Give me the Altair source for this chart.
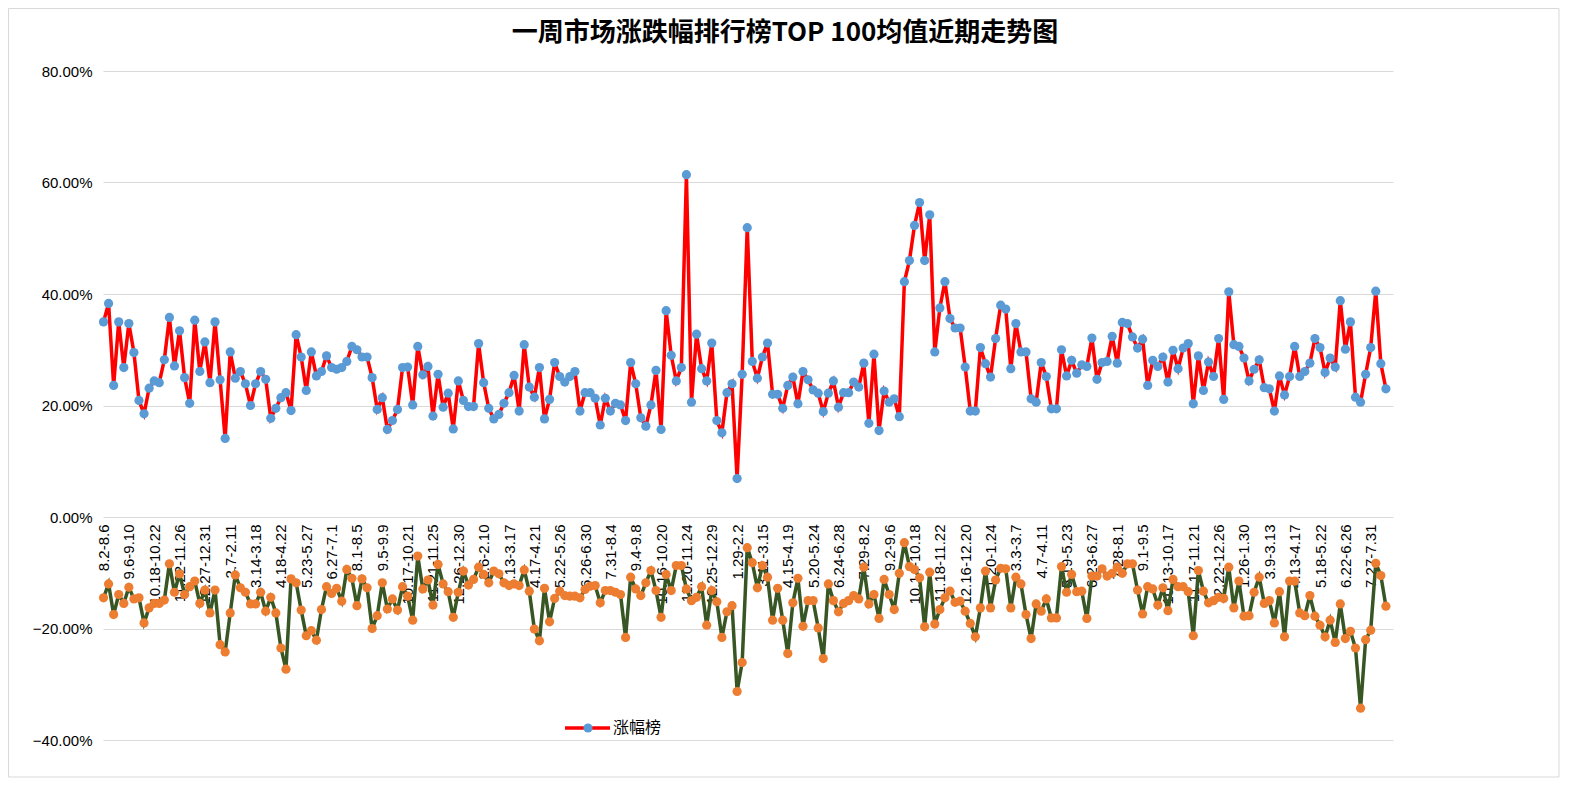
import json
import altair as alt
import pandas as pd

title_text = "一周市场涨跌幅排行榜TOP 100均值近期走势图"
series_up_name = "涨幅榜"
series_down_name = "跌幅榜"

# visible category labels (every 5th week)
tick_labels = [
    "8.2-8.6", "9.6-9.10", "10.18-10.22", "11.22-11.26", "12.27-12.31",
    "2.7-2.11", "3.14-3.18", "4.18-4.22", "5.23-5.27", "6.27-7.1",
    "8.1-8.5", "9.5-9.9", "10.17-10.21", "11.21-11.25", "12.26-12.30",
    "2.6-2.10", "3.13-3.17", "4.17-4.21", "5.22-5.26", "6.26-6.30",
    "7.31-8.4", "9.4-9.8", "10.16-10.20", "11.20-11.24", "12.25-12.29",
    "1.29-2.2", "3.11-3.15", "4.15-4.19", "5.20-5.24", "6.24-6.28",
    "7.29-8.2", "9.2-9.6", "10.14-10.18", "11.18-11.22", "12.16-12.20",
    "1.20-1.24", "3.3-3.7", "4.7-4.11", "5.19-5.23", "6.23-6.27",
    "7.28-8.1", "9.1-9.5", "10.13-10.17", "11.17-11.21", "12.22-12.26",
    "1.26-1.30", "3.9-3.13", "4.13-4.17", "5.18-5.22", "6.22-6.26",
    "7.27-7.31",
]
tick_step = 5

# weekly averages, percent
up_values = [
    35.0, 38.3, 23.6, 35.0, 26.8, 34.7, 29.5, 20.9, 18.5, 23.1,
    24.4, 24.1, 28.2, 35.8, 27.1, 33.4, 25.0, 20.4, 35.3, 26.1,
    31.4, 24.1, 35.0, 24.6, 14.1, 29.6, 24.9, 26.1, 23.9, 20.0,
    23.9, 26.1, 24.7, 17.7, 19.5, 21.4, 22.3, 19.1, 32.7, 28.7,
    22.7, 29.6, 25.3, 26.1, 28.9, 26.8, 26.5, 26.8, 27.9, 30.6,
    30.0, 28.7, 28.7, 25.0, 19.3, 21.4, 15.7, 17.3, 19.3, 26.8,
    26.9, 20.1, 30.6, 25.5, 27.0, 18.1, 25.6, 19.7, 22.2, 15.8,
    24.4, 20.9, 19.8, 19.8, 31.1, 24.1, 19.5, 17.6, 18.4, 20.4,
    22.3, 25.4, 19.0, 30.9, 23.3, 21.5, 26.8, 17.6, 21.1, 27.7,
    25.2, 24.2, 25.2, 26.1, 19.0, 22.3, 22.3, 21.3, 16.5, 21.3,
    19.0, 20.4, 20.1, 17.3, 27.7, 23.9, 17.8, 16.3, 20.1, 26.3,
    15.7, 37.0, 29.0, 24.4, 26.8, 61.4, 20.6, 32.8, 26.6, 24.4,
    31.2, 17.3, 15.1, 22.3, 23.9, 6.9, 25.6, 51.9, 27.9, 24.9,
    28.7, 31.2, 22.0, 22.0, 19.5, 23.6, 25.1, 20.3, 26.1, 24.6,
    22.8, 22.2, 18.9, 22.2, 24.4, 19.7, 22.3, 22.3, 24.2, 23.3,
    27.6, 16.8, 29.2, 15.5, 22.6, 20.6, 21.2, 18.0, 42.2, 46.0,
    52.3, 56.4, 46.0, 54.2, 29.6, 37.5, 42.2, 35.6, 33.9, 33.9,
    26.9, 19.0, 19.0, 30.4, 27.5, 25.1, 32.0, 38.0, 37.3, 26.6,
    34.7, 29.6, 29.6, 21.2, 20.6, 27.7, 25.2, 19.4, 19.4, 30.0,
    25.3, 28.1, 25.8, 27.3, 27.0, 32.1, 24.7, 27.7, 27.9, 32.4,
    27.6, 34.9, 34.7, 32.3, 30.3, 31.9, 23.6, 28.1, 27.0, 28.7,
    24.2, 29.9, 26.6, 30.3, 31.1, 20.3, 28.9, 22.7, 27.8, 25.2,
    32.0, 21.1, 40.4, 30.9, 30.6, 28.5, 24.4, 26.5, 28.2, 23.2,
    23.0, 19.0, 25.3, 21.9, 25.2, 30.6, 25.2, 26.1, 27.6, 32.0,
    30.4, 25.9, 28.5, 26.9, 38.8, 30.1, 35.0, 21.5, 20.6, 25.6,
    30.4, 40.5, 27.5, 23.0,
]

down_values = [
    -14.5, -12.0, -17.5, -13.9, -15.5, -12.6, -14.7, -14.5, -19.0, -16.3,
    -15.5, -15.5, -14.9, -8.4, -13.5, -10.2, -13.9, -12.5, -11.5, -15.5,
    -13.1, -17.2, -13.1, -22.9, -24.2, -17.2, -10.4, -12.7, -13.5, -15.6,
    -15.6, -13.5, -16.9, -14.4, -17.2, -23.5, -27.3, -11.1, -11.8, -16.7,
    -21.3, -20.4, -22.1, -16.6, -12.5, -13.7, -12.8, -15.1, -9.4, -11.0,
    -15.9, -11.1, -12.7, -20.0, -17.7, -11.8, -16.5, -14.7, -16.7, -12.5,
    -14.2, -18.5, -7.0, -12.9, -11.3, -15.8, -8.5, -12.0, -13.4, -18.0,
    -13.5, -9.7, -12.2, -11.2, -9.0, -10.3, -11.8, -9.7, -10.2, -11.8,
    -12.3, -12.0, -12.3, -9.5, -13.3, -20.1, -22.2, -12.8, -18.8, -14.6,
    -13.3, -14.1, -14.2, -14.2, -14.5, -13.0, -12.4, -12.3, -15.4, -13.2,
    -13.2, -13.5, -13.9, -21.6, -10.8, -12.9, -14.1, -11.8, -9.6, -13.2,
    -18.0, -10.3, -13.2, -8.7, -8.7, -12.9, -15.0, -14.4, -12.5, -19.4,
    -13.2, -15.2, -21.6, -17.0, -15.9, -31.3, -26.1, -5.5, -8.2, -12.7,
    -8.7, -10.8, -18.5, -12.8, -18.5, -24.5, -15.4, -11.0, -19.6, -15.0,
    -15.0, -19.9, -25.4, -12.0, -15.0, -17.0, -15.5, -15.0, -14.1, -14.7,
    -9.0, -15.6, -13.9, -18.2, -11.2, -13.9, -16.6, -10.1, -4.6, -8.9,
    -9.4, -10.9, -19.7, -9.9, -19.2, -16.6, -14.5, -13.3, -15.3, -15.1,
    -16.9, -19.1, -21.5, -16.3, -9.7, -16.3, -11.3, -9.2, -9.3, -16.3,
    -10.8, -12.0, -17.5, -21.8, -15.6, -16.9, -14.7, -18.1, -18.1, -8.9,
    -13.5, -10.3, -13.4, -13.3, -18.2, -10.6, -10.6, -9.3, -10.6, -10.1,
    -9.0, -10.1, -8.4, -8.4, -13.1, -17.4, -12.5, -12.9, -15.8, -12.7,
    -16.8, -11.2, -12.5, -12.5, -13.4, -21.3, -9.6, -13.3, -15.4, -15.0,
    -14.4, -14.6, -9.0, -16.3, -11.5, -17.8, -17.7, -13.5, -10.8, -15.5,
    -15.0, -19.0, -13.4, -21.5, -11.5, -11.5, -17.2, -17.7, -14.1, -17.8,
    -19.4, -21.5, -18.5, -22.5, -15.6, -21.8, -20.5, -23.5, -34.3, -22.0,
    -20.3, -8.3, -10.5, -16.0,
]

y_ticks = [-40, -20, 0, 20, 40, 60, 80]

n = len(up_values)
df_up = pd.DataFrame({"idx": list(range(n)), "value": up_values, "series": series_up_name})
df_down = pd.DataFrame({"idx": list(range(len(down_values))), "value": down_values, "series": series_down_name})

W, H = 1290, 669
zero_from_top = H * (80 - 0) / 120.0
label_font = "Liberation Sans"

label_expr = json.dumps(tick_labels) + "[round(datum.value / %d)]" % tick_step
x_enc = alt.X(
    "idx:Q",
    scale=alt.Scale(domain=[-0.1, 254.4], nice=False, zero=False),
    axis=alt.Axis(
        values=[i * tick_step for i in range(len(tick_labels))],
        labelExpr=label_expr,
        labelAngle=-90,
        labelFontSize=15,
        labelFont=label_font,
        labelColor="#000000",
        labelPadding=7,
        labelOverlap=False,
        ticks=False,
        domain=False,
        grid=False,
        offset=-(H - zero_from_top),
        title=None,
    ),
)
y_enc = alt.Y(
    "value:Q",
    scale=alt.Scale(domain=[-40, 80], nice=False, zero=False),
    axis=alt.Axis(
        values=y_ticks,
        labelExpr="format(datum.value, '.2f') + '%'",
        labelFontSize=15,
        labelFont=label_font,
        labelColor="#000000",
        labelPadding=11,
        ticks=False,
        domain=False,
        grid=True,
        gridColor="#D9D9D9",
        gridWidth=1,
        title=None,
    ),
)

up_line = alt.Chart(df_up).mark_line(color="#FF0000", strokeWidth=3.5).encode(x=x_enc, y=y_enc)
up_pts = alt.Chart(df_up).mark_circle(color="#5B9BD5", opacity=1, size=85).encode(x=x_enc, y=y_enc)
down_line = alt.Chart(df_down).mark_line(color="#375623", strokeWidth=3.5).encode(x=x_enc, y=y_enc)
down_pts = alt.Chart(df_down).mark_circle(color="#ED7D31", opacity=1, size=85).encode(x=x_enc, y=y_enc)

one = pd.DataFrame({"label": [series_up_name], "title": [title_text]})

title_mark = alt.Chart(one).mark_text(
    font="Noto Sans CJK SC", fontSize=26, fontWeight="bold", color="#000000",
    align="center", baseline="middle",
).encode(x=alt.value(682), y=alt.value(-38), text="title:N")

leg_rule = alt.Chart(one).mark_rule(color="#FF0000", strokeWidth=3.5).encode(
    x=alt.value(462), x2=alt.value(507), y=alt.value(657)
)
leg_pt = alt.Chart(one).mark_circle(color="#5B9BD5", opacity=1, size=85).encode(
    x=alt.value(485), y=alt.value(657)
)
leg_text = alt.Chart(one).mark_text(
    font="Noto Sans CJK SC", fontSize=16, color="#000000", align="left", baseline="middle"
).encode(x=alt.value(510), y=alt.value(657), text="label:N")

border = alt.Chart(one).mark_rect(fill="transparent", stroke="#D9D9D9", strokeWidth=1).encode(
    x=alt.value(-94.5), x2=alt.value(1456), y=alt.value(-62.5), y2=alt.value(706)
)

chart = alt.layer(
    border, up_line, up_pts, down_line, down_pts, title_mark, leg_rule, leg_pt, leg_text
).properties(
    width=W,
    height=H,
    autosize=alt.AutoSizeParams(type="none"),
    padding={"left": 95, "top": 63, "right": 170, "bottom": 39},
    background="#FFFFFF",
).configure_view(strokeWidth=0)

chart.save("out.html", embed_options={"renderer": "svg", "actions": False})
